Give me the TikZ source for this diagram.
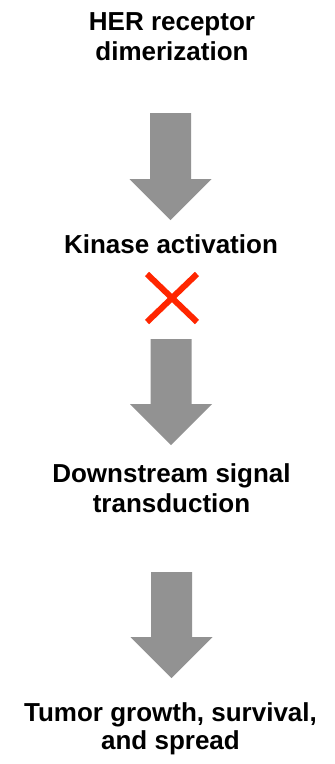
\documentclass[tikz,border=0pt]{standalone}
\usepackage{fontspec}
\setmainfont{Liberation Sans}
\definecolor{arrowgray}{RGB}{146,146,146}
\definecolor{xred}{RGB}{255,38,0}
\newcommand\blockarr[3]{%
  \fill[blockarrow] (#1-20.5,#2) -- (#1+20.5,#2) -- (#1+20.5,#3-41) -- (#1+41,#3-41)
    -- (#1,#3) -- (#1-41,#3-41) -- (#1-20.5,#3-41) -- cycle;}
\begin{document}
\begin{tikzpicture}[x=1pt,y=-1pt,
  lbl/.style={font=\bfseries\fontsize{26}{30}\selectfont, align=center, inner sep=0pt, anchor=base},
  blockarrow/.style={fill=arrowgray},
  cross/.style={draw=xred, line width=6pt}]
\useasboundingbox[fill=white] (0,0) rectangle (335,764);
\node[lbl] (her) at (172,60) {HER receptor\\dimerization};
\node[lbl] (kin) at (171,253) {Kinase activation};
\node[lbl] (down) at (171.5,512) {Downstream signal\\transduction};
\node[lbl, font=\bfseries\fontsize{26}{28}\selectfont] (tumor) at (170.5,749) {Tumor growth, survival,\\and spread};
\blockarr{170.5}{113}{220}
\blockarr{171}{339}{445}
\blockarr{171.5}{572}{678}
\coordinate (xc) at (172,298);
\draw[cross] ([shift={(-25,-24)}]xc) -- ([shift={(25,24)}]xc);
\draw[cross] ([shift={(-25,24)}]xc) -- ([shift={(25,-24)}]xc);
\end{tikzpicture}
\end{document}
